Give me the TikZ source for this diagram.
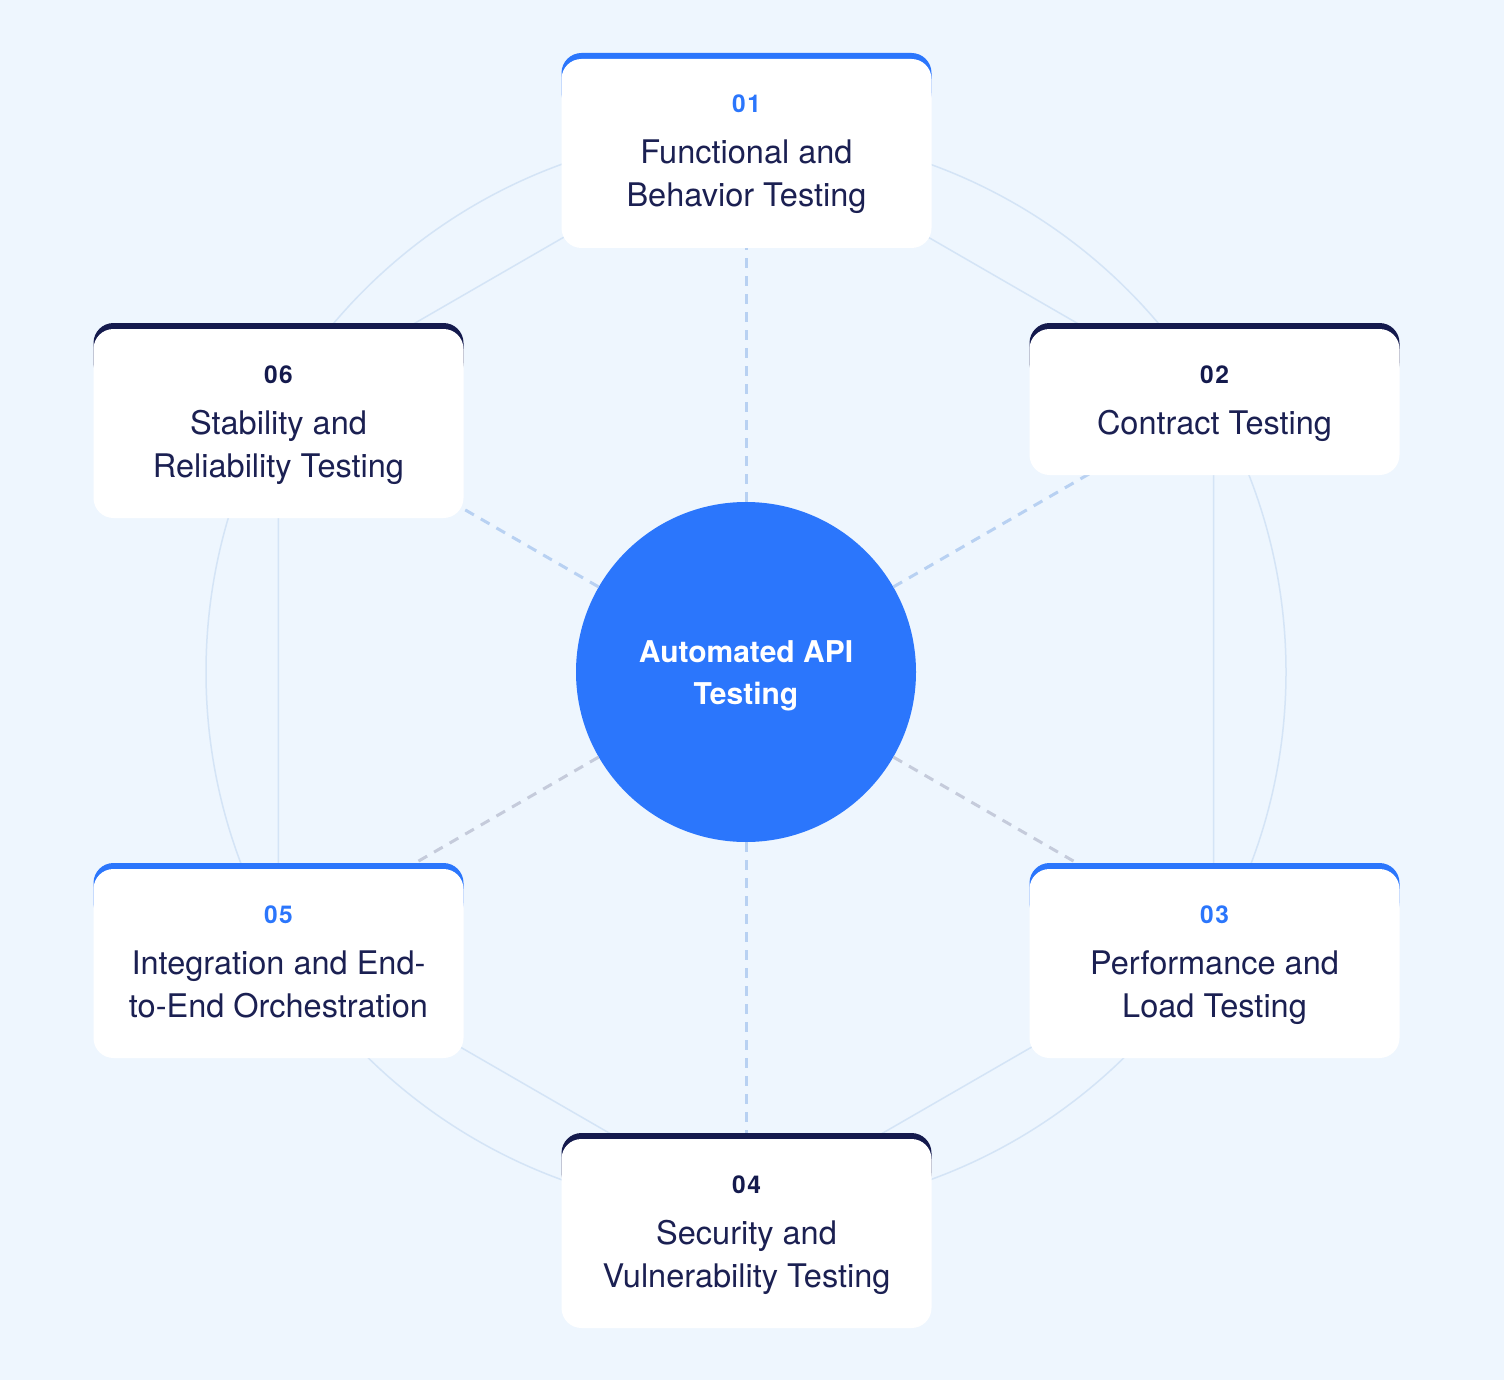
\documentclass[tikz,border=0pt]{standalone}
\usepackage{fontspec}
\setmainfont{TeX Gyre Heros}
\usetikzlibrary{calc}
\definecolor{bgc}{HTML}{EEF6FE}
\definecolor{cblue}{HTML}{2B76FC}
\definecolor{cnavy}{HTML}{141A4D}
\definecolor{ctext}{HTML}{1B2052}
\definecolor{hexc}{HTML}{D4E4F6}
\definecolor{spokeb}{HTML}{B8D1F2}
\definecolor{spokeg}{HTML}{C5CBDB}
\begin{document}
\begin{tikzpicture}[x=1pt,y=-1pt,
  hexline/.style={draw=hexc, line width=1.5pt},
  spokeU/.style={draw=spokeb, line width=3pt, dash pattern=on 10pt off 8pt},
  spokeL/.style={draw=spokeg, line width=3pt, dash pattern=on 10pt off 8pt},
  cardbar/.style={rectangle, rounded corners=20pt, minimum width=370pt, minimum height=60pt, inner sep=0pt},
  card/.style={rectangle, rounded corners=20pt, fill=white, minimum width=370pt, inner sep=0pt},
  numtxt/.style={anchor=base, inner sep=0pt, font=\fontsize{24.5}{28}\selectfont\bfseries},
  body/.style={anchor=base, inner sep=0pt, text=ctext, font=\fontsize{32.5}{38}\selectfont},
  ctxt/.style={anchor=base, inner sep=0pt, text=white, font=\fontsize{30}{36}\selectfont\bfseries}
]
\fill[bgc] (0,0) rectangle (1504,1380);
\useasboundingbox (0,0) rectangle (1504,1380);
\coordinate (o) at (746,672);
\foreach \k/\a in {1/-90,2/-30,3/30,4/90,5/150,6/210}
  \coordinate (v\k) at ([shift={(\a:540)}]o);
% faint ring and hexagon
\draw[hexline] (o) circle[radius=540];
\draw[hexline] (v1) -- (v2) -- (v3) -- (v4) -- (v5) -- (v6) -- cycle;
% centre
\node[circle, fill=cblue, minimum size=340pt, inner sep=0pt] (c) at (o) {};
\draw[spokeU] (c) -- (v1);
\draw[spokeU] (c) -- (v2);
\draw[spokeL] (c) -- (v3);
\draw[spokeU] (c) -- (v4);
\draw[spokeL] (c) -- (v5);
\draw[spokeU] (c) -- (v6);
\node[ctxt] (ct1) at (746,662) {Automated API};
\node[ctxt] (ct2) at (746,704) {Testing};
% cards
\foreach \i/\cx/\ty/\by/\cc/\num in {
  1/746.5/53/248/cblue/0\kern1.5pt 1,
  2/1214.5/323/475/cnavy/0\kern1.5pt 2,
  3/1214.5/863/1058/cblue/0\kern1.5pt 3,
  4/746.5/1133/1328/cnavy/0\kern1.5pt 4,
  5/278.5/863/1058/cblue/0\kern1.5pt 5,
  6/278.5/323/518/cnavy/0\kern1.5pt 6}{
  \node[cardbar, fill=\cc] (bar\i) at (\cx,\ty+30) {};
  \node[card, minimum height={\by-\ty-6}] (b\i) at (\cx,{(\ty+6+\by)/2}) {};
  \node[numtxt, text=\cc] (n\i) at (\cx,\ty+60) {\num};
}
\node[body] (t1a) at (746.5,164) {Functional and};
\node[body] (t1b) at (746.5,207) {Behavior Testing};
\node[body] (t2a) at (1214.5,434) {Contract Testing};
\node[body] (t3a) at (1214.5,974) {Performance and};
\node[body] (t3b) at (1214.5,1017) {Load Testing};
\node[body] (t4a) at (746.5,1244) {Security and};
\node[body] (t4b) at (746.5,1287) {Vulnerability Testing};
\node[body] (t5a) at (278.5,974) {Integration and End-};
\node[body] (t5b) at (278.5,1017) {to-End Orchestration};
\node[body] (t6a) at (278.5,434) {Stability and};
\node[body] (t6b) at (278.5,477) {Reliability Testing};
\end{tikzpicture}
\end{document}
